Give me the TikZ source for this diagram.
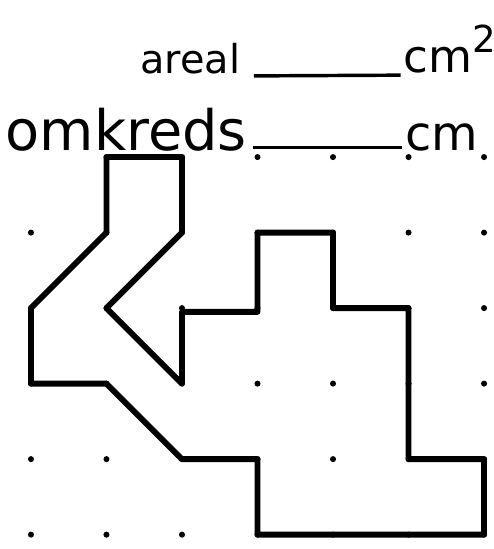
\documentclass[tikz,border=0pt]{standalone}
\usepackage{fontspec}
\setmainfont{DejaVu Sans}
\begin{document}
\begin{tikzpicture}[
    label/.style={anchor=base west, inner sep=0pt},
    blank/.style={line width=1.3pt},
    outline/.style={line width=2.2pt, line join=round}]
    \useasboundingbox (-0.41,-5.19) rectangle (6.13,2.08);
    % dots of the grid
    \foreach \i in {0,...,6}
        \foreach \j in {0,...,5}
            {\ifnum\numexpr\i+\j\relax>0 \fill (\i,-\j) circle[radius=0.04]; \fi}
    % the figure
    \draw[outline]
            (1,0) -- (2,0) -- (2,-1) -- (1,-2) -- (2,-3) -- (2,-2.05)
            -- (3,-2.05) -- (3,-1) -- (4,-1) -- (4,-2) -- (5,-2)
            -- (5,-4) -- (6,-4) -- (6,-5) -- (3,-5) -- (3,-4)
            -- (2,-4) -- (1,-3) -- (0,-3) -- (0,-2) -- (1,-1) -- cycle;
    % areal and omkreds
    \node[label, font={\fontsize{15}{18}\selectfont}] (areal) at (1.44,1.11) {areal};
    \node[label, font={\fontsize{17}{20}\selectfont}] (cmA) at (4.93,1.12) {cm\raisebox{0.45em}{\fontsize{14}{16}\selectfont 2}};
    \draw[blank] ([xshift=5pt,yshift=-1pt]areal.base east) -- ([xshift=-1pt,yshift=-1pt]cmA.base west);
    \node[label, font={\fontsize{21}{24}\selectfont}] (omkreds) at (-0.34,0.09) {omkreds};
    \node[label, font={\fontsize{18}{22}\selectfont}] (cmB) at (4.95,0.09) {cm};
    \draw[blank] ([xshift=2pt,yshift=1pt]omkreds.base east) -- ([xshift=-1pt,yshift=1pt]cmB.base west);
\end{tikzpicture}
\end{document}
